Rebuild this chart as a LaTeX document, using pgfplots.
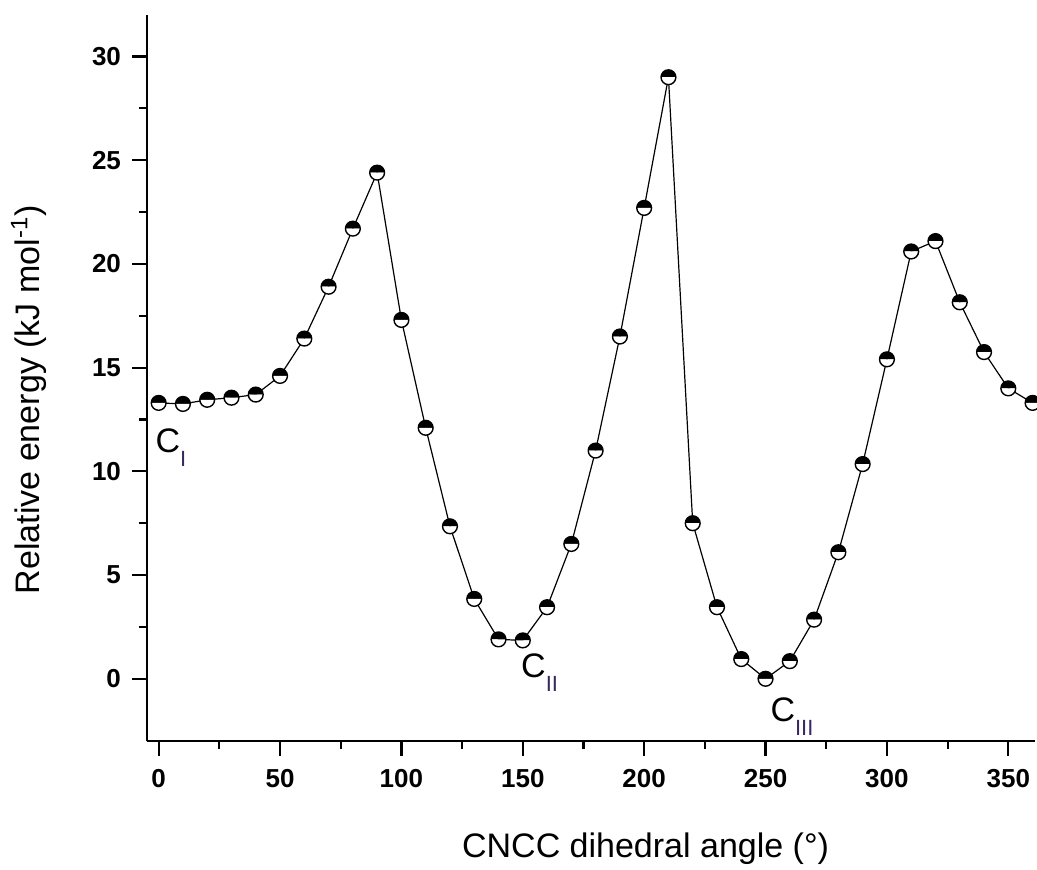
\documentclass[border=0pt]{standalone}
\usepackage{fontspec}
\setmainfont{Liberation Sans}
\usepackage{pgfplots}
\pgfplotsset{compat=1.18}
\usetikzlibrary{plotmarks}
\definecolor{subcol}{RGB}{55,40,95}

\pgfplotstableread{
x y
0 13.3
10 13.25
20 13.45
30 13.55
40 13.7
50 14.6
60 16.4
70 18.9
80 21.7
90 24.4
100 17.3
110 12.1
120 7.35
130 3.85
140 1.9
150 1.85
160 3.45
170 6.5
180 11.0
190 16.5
200 22.7
210 29.0
220 7.5
230 3.45
240 0.95
250 0.0
260 0.85
270 2.85
280 6.1
290 10.35
300 15.4
310 20.6
320 21.1
330 18.15
340 15.75
350 14.0
360 13.3
}\energy

\newcommand{\sub}[1]{{\fontsize{11}{13}\selectfont\color{subcol}\raisebox{-7pt}{#1}}}

\begin{document}
\begin{tikzpicture}
\begin{axis}[
  scale only axis,
  width=444pt, height=363pt,
  xmin=-4.8, xmax=361, ymin=-3, ymax=32,
  axis x line*=bottom, axis y line*=left,
  axis line style={line width=1.1pt},
  xtick={0,50,...,350}, ytick={0,5,...,30},
  minor x tick num=1, minor y tick num=1,
  tick align=outside,
  major tick length=7.5pt, minor tick length=4pt,
  every tick/.style={black, line width=1.1pt},
  ticklabel style={font=\fontsize{13}{15}\selectfont\bfseries},
  /pgf/number format/assume math mode=true,
  xticklabel style={yshift=-3pt},
  yticklabel style={xshift=-2pt},
  xlabel={CNCC dihedral angle (°)},
  ylabel={Relative energy (kJ mol\textsuperscript{-1})},
  label style={font=\fontsize{17}{20}\selectfont},
  xlabel style={at={(axis description cs:0.5615,0)}, anchor=base, yshift=-58pt},
  ylabel style={at={(axis description cs:-0.1205,0.47)}, anchor=base},
  clip=false,
]
\addplot[black, line width=0.6pt, mark=halfcircle*, mark size=3.7pt,
  mark options={line width=0.7pt, fill=black}, mark color=white] table {\energy};

\node[anchor=base west, inner sep=0, font=\fontsize{17}{20}\selectfont] at (axis cs:-1.4,10.9) {C\sub{I}};
\node[anchor=base west, inner sep=0, font=\fontsize{17}{20}\selectfont] at (axis cs:149.2,0.06) {C\sub{II}};
\node[anchor=base west, inner sep=0, font=\fontsize{17}{20}\selectfont] at (axis cs:251.9,-2.05) {C\sub{III}};

\coordinate (ll) at (rel axis cs:0,0);
\end{axis}
\pgfresetboundingbox
\path (ll) ++(-73.5pt,-64pt) rectangle ++(518.5pt,434.5pt);
\end{tikzpicture}
\end{document}
